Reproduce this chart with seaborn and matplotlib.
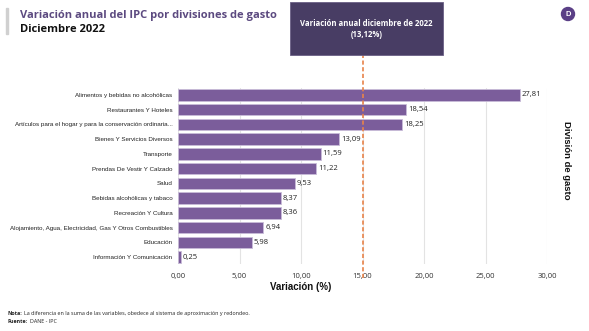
import matplotlib
matplotlib.use("Agg")
import matplotlib.pyplot as plt
import seaborn as sns
import pandas as pd
from matplotlib.patches import Rectangle, Ellipse

categories = [
    "Alimentos y bebidas no alcohólicas",
    "Restaurantes Y Hoteles",
    "Artículos para el hogar y para la conservación ordinaria...",
    "Bienes Y Servicios Diversos",
    "Transporte",
    "Prendas De Vestir Y Calzado",
    "Salud",
    "Bebidas alcohólicas y tabaco",
    "Recreación Y Cultura",
    "Alojamiento, Agua, Electricidad, Gas Y Otros Combustibles",
    "Educación",
    "Información Y Comunicación",
]
values = [27.81, 18.54, 18.25, 13.09, 11.59, 11.22, 9.53, 8.37, 8.36, 6.94, 5.98, 0.25]
xticks = [0, 5, 10, 15, 20, 25, 30]
ref_line = 15
annual_label = "Variación anual diciembre de 2022\n(13,12%)"

sns.set_theme(style="white")
plt.rcParams['font.family'] = ['Liberation Sans', 'DejaVu Sans']

W, H = 589, 331
fig = plt.figure(figsize=(W / 100, H / 100), dpi=100)
ax = fig.add_axes([178 / W, 1 - 264.4 / H, (547 - 178) / W, 176.8 / H])

df = pd.DataFrame({"cat": categories, "val": values})
bar_color = "#7b5d9b"
sns.barplot(data=df, x="val", y="cat", orient="h", color=bar_color, saturation=1,
            width=0.78, edgecolor="#c9bcd8", linewidth=0.6, ax=ax, zorder=2)

ax.set_xlim(0, 30)
ax.set_ylim(11.5, -0.5)
ax.set_xticks(xticks)
ax.set_xticklabels([f"{t:.2f}".replace(".", ",") for t in xticks], fontsize=5.5, color="#333333",
                   family=['Open Sans', 'DejaVu Sans'])
ax.tick_params(axis="x", length=0, pad=6)
ax.tick_params(axis="y", length=0, pad=4)
for lab in ax.get_yticklabels():
    lab.set_fontsize(4.5)
    lab.set_family(['Liberation Sans', 'DejaVu Sans'])
    lab.set_color("#222222")
ax.set_xlabel("")
ax.set_ylabel("")
for s in ax.spines.values():
    s.set_visible(False)
ax.grid(axis="x", color="#e3e3e3", linewidth=0.8, zorder=0)
ax.set_axisbelow(True)

for i, v in enumerate(values):
    ax.text(v + 0.15, i, f"{v:.2f}".replace(".", ","), va="center", ha="left",
            fontsize=5.5, color="#222222", family=['Open Sans', 'DejaVu Sans'])

ax.axvline(ref_line, ymin=-0.077, ymax=1.184, color="#e8834a", linestyle=(0, (2.5, 1.5)),
           linewidth=1.2, clip_on=False, zorder=5)

# Title
fig.patches.append(Rectangle((6 / W, 1 - 34 / H), 2 / W, 26 / H, transform=fig.transFigure,
                             color="#d0d0d0", zorder=1))
fig.text(20 / W, 1 - 15.5 / H, "Variación anual del IPC por divisiones de gasto", fontsize=8.0,
         fontweight="bold", color="#5c4a80", va="center", ha="left",
         family=['Open Sans', 'DejaVu Sans'])
fig.text(20 / W, 1 - 30 / H, "Diciembre 2022", fontsize=8.0, fontweight="bold",
         color="#111111", va="center", ha="left", family=['Open Sans', 'DejaVu Sans'])

# Annual box
fig.patches.append(Rectangle((290 / W, 1 - 55 / H), 153 / W, 53 / H, transform=fig.transFigure,
                             facecolor="#483d64", edgecolor="#6a5f85", linewidth=0.6, zorder=3))
fig.text(366.5 / W, 1 - 29 / H, annual_label, fontsize=5.6, fontweight="bold", color="white",
         ha="center", va="center", linespacing=1.3, zorder=4, family=['Open Sans', 'DejaVu Sans'])

# Logo
fig.patches.append(Ellipse((568 / W, 1 - 14 / H), 13 / W, 13 / H, transform=fig.transFigure,
                           color="#5a3f86", zorder=3))
fig.text(568 / W, 1 - 14.5 / H, "D", fontsize=5.5, fontweight="bold", color="white",
         ha="center", va="center", zorder=4)

# Axis labels
fig.text(301 / W, 1 - 287 / H, "Variación (%)", fontsize=7, fontweight="bold", color="#111111",
         ha="center", va="center")
fig.text(567 / W, 1 - 160 / H, "División de gasto", fontsize=6.8, fontweight="bold",
         color="#111111", ha="center", va="center", rotation=270)

# Notes
note_kw = dict(fontsize=3.9, color="#222222", ha="left", va="center",
               family=['Open Sans', 'DejaVu Sans'])
fig.text(8 / W, 1 - 313.5 / H, "Nota:", fontweight="bold", **note_kw)
fig.text(24 / W, 1 - 313.5 / H,
         "La diferencia en la suma de las variables, obedece al sistema de aproximación y redondeo.",
         **note_kw)
fig.text(8 / W, 1 - 321.5 / H, "Fuente:", fontweight="bold", **note_kw)
fig.text(30 / W, 1 - 321.5 / H, "DANE - IPC", **note_kw)

fig.savefig("out.png", dpi=100)
